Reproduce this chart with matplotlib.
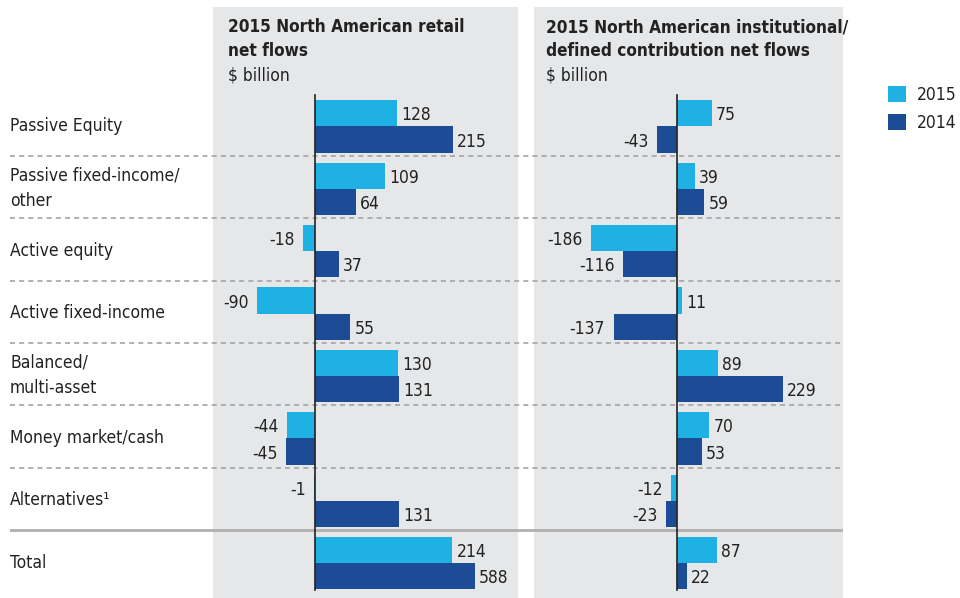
import matplotlib
matplotlib.use("Agg")
import matplotlib.pyplot as plt
from matplotlib import font_manager as fm
from matplotlib.patches import Rectangle

# prefer a narrow sans, like the original condensed face
fonts = fm.fontManager.ttflist
names = {f.name for f in fonts}
if "Liberation Sans Narrow" in names:
    plt.rcParams['font.family'] = ['Liberation Sans Narrow', 'DejaVu Sans']
elif any(f.name == "DejaVu Sans" and "condensed" in str(f.stretch) for f in fonts):
    plt.rcParams['font.family'] = ['DejaVu Sans']
    plt.rcParams['font.stretch'] = 'condensed'
else:
    plt.rcParams['font.family'] = ['Roboto', 'DejaVu Sans']

categories = ["Passive Equity", "Passive fixed-income/\nother", "Active equity",
              "Active fixed-income", "Balanced/\nmulti-asset", "Money market/cash",
              "Alternatives\u00b9", "Total"]
retail_2015 = [128, 109, -18, -90, 130, -44, -1, 214]
retail_2014 = [215, 64, 37, 55, 131, -45, 131, 588]
inst_2015 = [75, 39, -186, 11, 89, 70, -12, 87]
inst_2014 = [-43, 59, -116, -137, 229, 53, -23, 22]
years = ["2015", "2014"]

C15 = "#20b1e4"
C14 = "#1d4c97"
PANEL = "#e6e7e9"
TXT = "#222222"
FS = 12.5

W, H = 960, 598


def fx(px):
    return px / W


def fy(py):
    return 1 - py / H


def rect(x0, y0, x1, y1):
    # figure-fraction rect from pixel box (top-left origin)
    return [fx(x0), fy(y1), fx(x1) - fx(x0), fy(y0) - fy(y1)]


fig = plt.figure(figsize=(9.6, 5.98), dpi=100)

# gray panels
for x0, x1 in [(213, 518), (534, 843)]:
    fig.add_artist(Rectangle((fx(x0), 0), fx(x1) - fx(x0), fy(7),
                             transform=fig.transFigure, facecolor=PANEL,
                             edgecolor="none", zorder=-1))

top, bot = 93.3, 592.6
n = len(categories)

# background axes: row separators and category labels
ax_bg = fig.add_axes(rect(10, top, 843, bot), zorder=0)
ax_bg.set_xlim(0, 1)
ax_bg.set_ylim(n - 0.5, -0.5)
ax_bg.axis("off")
for i in range(n - 2):
    ax_bg.axhline(i + 0.5, color="#a3a3a3", lw=1.2, ls=(0, (3, 2.5)))
ax_bg.axhline(n - 1.5, color="#b0b0b0", lw=2)
for i, c in enumerate(categories):
    ax_bg.text(0, i + 0.02, c, ha="left", va="center", fontsize=FS, color=TXT,
               linespacing=1.5)

bh = 0.42
off = 0.03


def panel(box, xlim, v15, v14):
    ax = fig.add_axes(rect(*box), zorder=1)
    ax.patch.set_visible(False)
    ax.set_xlim(*xlim)
    ax.set_ylim(n - 0.5, -0.5)
    ax.axis("off")
    ys = list(range(n))
    b1 = ax.barh([y - bh / 2 + off for y in ys], v15, height=bh, color=C15, label=years[0])
    b2 = ax.barh([y + bh / 2 + off for y in ys], v14, height=bh, color=C14, label=years[1])
    for bars, vals in [(b1, v15), (b2, v14)]:
        for b, v in zip(bars, vals):
            yc = b.get_y() + b.get_height() / 2
            xe = min(v, xlim[1])
            if v >= 0:
                ax.annotate(str(v), (xe, yc), xytext=(3, -1.5), textcoords="offset points",
                            ha="left", va="center", fontsize=FS, color=TXT,
                            annotation_clip=False)
            else:
                ax.annotate(str(v), (xe, yc), xytext=(-6, -1.5), textcoords="offset points",
                            ha="right", va="center", fontsize=FS, color=TXT,
                            annotation_clip=False)
    ax.axvline(0, ymin=0.005, ymax=0.997, color=TXT, lw=1.2)
    return ax, b1, b2


# retail: zero at 315px, 0.642 px per $bn; axis stops at 475px (long bar is cut there)
ax1, h1, h2 = panel((213, top, 475, bot), ((213 - 315) / 0.642, (475 - 315) / 0.642),
                    retail_2015, retail_2014)
# institutional: zero at 677px, 0.463 px per $bn
ax2, _, _ = panel((534, top, 843, bot), ((534 - 677) / 0.463, (843 - 677) / 0.463),
                  inst_2015, inst_2014)

# titles
fig.text(fx(228), fy(18.5), "2015 North American retail\nnet flows", ha="left", va="top",
         fontsize=12.3, fontweight="bold", color=TXT, linespacing=1.38)
fig.text(fx(228), fy(66.5), "$ billion", ha="left", va="top", fontsize=FS, color=TXT)
fig.text(fx(546), fy(18.5), "2015 North American institutional/\ndefined contribution net flows",
         ha="left", va="top", fontsize=12.3, fontweight="bold", color=TXT, linespacing=1.38)
fig.text(fx(546), fy(66.5), "$ billion", ha="left", va="top", fontsize=FS, color=TXT)

fig.legend([h1, h2], years, loc="upper left", bbox_to_anchor=(fx(888), fy(86)),
           frameon=False, fontsize=FS, handlelength=1.05, handleheight=1.05,
           handletextpad=0.6, labelspacing=0.55, borderpad=0, borderaxespad=0,
           labelcolor=TXT)

fig.savefig("out.png", dpi=100)
